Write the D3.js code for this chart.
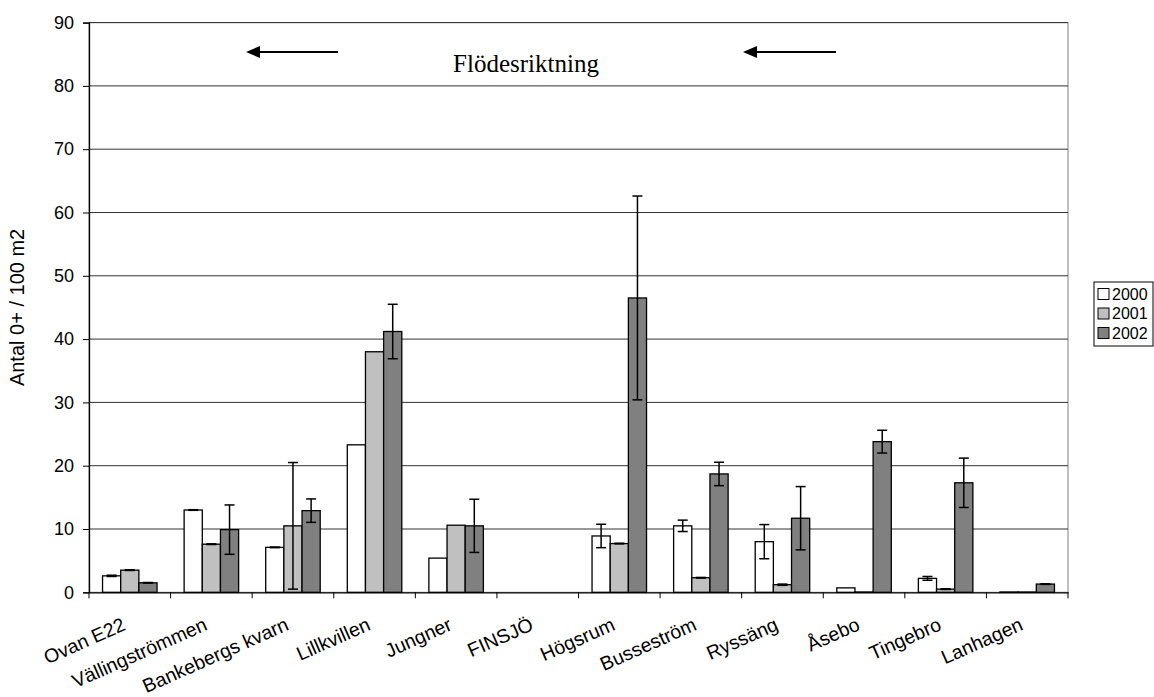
<!DOCTYPE html>
<html>
<head>
<meta charset="utf-8">
<script src="https://cdn.jsdelivr.net/npm/d3@7"></script>
<style>
  body { margin: 0; background: #fff; }
  svg { display: block; }
</style>
</head>
<body>
<svg id="chart" width="1154" height="697"></svg>
<script>
const categories = ["Ovan E22","Vällingströmmen","Bankebergs kvarn","Lillkvillen","Jungner","FINSJÖ","Högsrum","Busseström","Ryssäng","Åsebo","Tingebro","Lanhagen"];
const seriesNames = ["2000","2001","2002"];
const values2000 = [2.6, 13.0, 7.1, 23.3, 5.4, null, 8.9, 10.5, 8.0, 0.7, 2.2, 0.05];
const values2001 = [3.5, 7.6, 10.5, 38.0, 10.6, null, 7.7, 2.3, 1.2, 0.05, 0.5, 0.05];
const values2002 = [1.5, 9.9, 12.9, 41.2, 10.5, null, 46.5, 18.7, 11.7, 23.8, 17.3, 1.3];
const errors2000 = [0.1, 0.05, 0.05, null, null, null, 1.85, 0.9, 2.7, null, 0.3, null];
const errors2001 = [0.05, 0.05, 10.0, null, null, null, 0.05, 0.05, 0.1, null, 0.05, null];
const errors2002 = [0.05, 3.9, 1.85, 4.3, 4.2, null, 16.1, 1.85, 5.0, 1.8, 3.9, 0.05];
const yTicks = [0,10,20,30,40,50,60,70,80,90];
const yTitle = "Antal 0+ / 100 m2";
const annotation = "Flödesriktning";

const colors = {"2000": "#ffffff", "2001": "#c0c0c0", "2002": "#808080"};
const seriesValues = {"2000": values2000, "2001": values2001, "2002": values2002};
const seriesErrors = {"2000": errors2000, "2001": errors2001, "2002": errors2002};

const svg = d3.select("#chart");
const L = 89, R = 1068, T = 22.6, B = 592.3;
const font = "'Liberation Sans', Arial, sans-serif";

const x0 = d3.scaleBand().domain(categories).range([L, R]).paddingInner(0).paddingOuter(0);
const bw = x0.bandwidth();
const x1 = d3.scaleBand().domain(seriesNames).range([bw * 0.166, bw * 0.834]).padding(0);
const y = d3.scaleLinear().domain([0, 90]).range([B, T]);

// plot border
svg.append("rect").attr("x", L).attr("y", T).attr("width", R - L).attr("height", B - T)
  .attr("fill", "none").attr("stroke", "#808080").attr("stroke-width", 1);

// gridlines
svg.append("g").selectAll("line").data(yTicks.filter(d => d > 0)).join("line")
  .attr("x1", L).attr("x2", R).attr("y1", d => y(d)).attr("y2", d => y(d))
  .attr("stroke", "#333").attr("stroke-width", 1);

// bars
const groups = svg.append("g").selectAll("g").data(categories).join("g")
  .attr("transform", c => `translate(${x0(c)},0)`);

seriesNames.forEach(s => {
  groups.each(function(c, i) {
    const v = seriesValues[s][i];
    if (v == null) return;
    d3.select(this).append("rect")
      .attr("x", x1(s)).attr("width", x1.bandwidth())
      .attr("y", y(v)).attr("height", y(0) - y(v))
      .attr("fill", colors[s]).attr("stroke", "#000").attr("stroke-width", 1.3);
  });
});

// error bars
const capW = 5;
seriesNames.forEach(s => {
  groups.each(function(c, i) {
    const v = seriesValues[s][i], e = seriesErrors[s][i];
    if (v == null || e == null) return;
    const cx = x1(s) + x1.bandwidth() / 2;
    const g = d3.select(this).append("g").attr("stroke", "#000").attr("stroke-width", 1.5);
    g.append("line").attr("x1", cx).attr("x2", cx).attr("y1", y(v + e)).attr("y2", y(Math.max(0, v - e)));
    g.append("line").attr("x1", cx - capW).attr("x2", cx + capW).attr("y1", y(v + e)).attr("y2", y(v + e));
    g.append("line").attr("x1", cx - capW).attr("x2", cx + capW).attr("y1", y(Math.max(0, v - e))).attr("y2", y(Math.max(0, v - e)));
  });
});

// y axis
const yAxis = svg.append("g").attr("transform", `translate(${L},0)`)
  .call(d3.axisLeft(y).tickValues(yTicks).tickSize(6).tickPadding(9).tickFormat(d3.format("d")));
yAxis.select(".domain").attr("stroke", "#000").attr("stroke-width", 1.3);
yAxis.selectAll(".tick line").attr("stroke", "#000");
yAxis.selectAll("text").attr("font-family", font).attr("font-size", 18).attr("fill", "#000");

// x axis
const xAxis = svg.append("g").attr("transform", `translate(0,${B})`)
  .call(d3.axisBottom(x0).tickSize(0).tickSizeOuter(0).tickPadding(0));
xAxis.select(".domain").attr("stroke", "#000").attr("stroke-width", 1.3);
xAxis.selectAll("text")
  .attr("font-family", font).attr("font-size", 19.5).attr("fill", "#000")
  .attr("text-anchor", "end").attr("dy", 0).attr("y", 0)
  .attr("transform", "translate(-3,37) rotate(-24)");
xAxis.selectAll(".boundary").data(categories.concat(["_end"])).join("line")
  .attr("class", "boundary")
  .attr("x1", (c, i) => i < categories.length ? x0(c) : R)
  .attr("x2", (c, i) => i < categories.length ? x0(c) : R)
  .attr("y1", 0).attr("y2", 6).attr("stroke", "#000");

// y title
svg.append("text").attr("transform", `translate(24,${(T + B) / 2}) rotate(-90)`)
  .attr("text-anchor", "middle").attr("font-family", font).attr("font-size", 20).text(yTitle);

// annotation arrows
[[338, 246], [836, 743]].forEach(([a, b]) => {
  svg.append("line").attr("x1", a).attr("x2", b + 10).attr("y1", 52).attr("y2", 52)
    .attr("stroke", "#000").attr("stroke-width", 2);
  svg.append("path").attr("d", `M${b},52 L${b + 14},46 L${b + 14},58 Z`).attr("fill", "#000");
});
svg.append("text").attr("x", 526).attr("y", 72).attr("text-anchor", "middle")
  .attr("font-family", "'Liberation Serif', 'Times New Roman', serif").attr("font-size", 25).text(annotation);

// legend
const lg = svg.append("g").attr("transform", "translate(1094,282)");
lg.append("rect").attr("x", 0).attr("y", 0).attr("width", 59).attr("height", 64)
  .attr("fill", "#fff").attr("stroke", "#000").attr("stroke-width", 1);
seriesNames.forEach((s, i) => {
  lg.append("rect").attr("x", 4).attr("y", 6.5 + i * 19.5).attr("width", 11).attr("height", 11)
    .attr("fill", colors[s]).attr("stroke", "#000").attr("stroke-width", 1);
  lg.append("text").attr("x", 18).attr("y", 12 + i * 19.5).attr("dy", "0.35em")
    .attr("font-family", font).attr("font-size", 16).text(s);
});
</script>
</body>
</html>
